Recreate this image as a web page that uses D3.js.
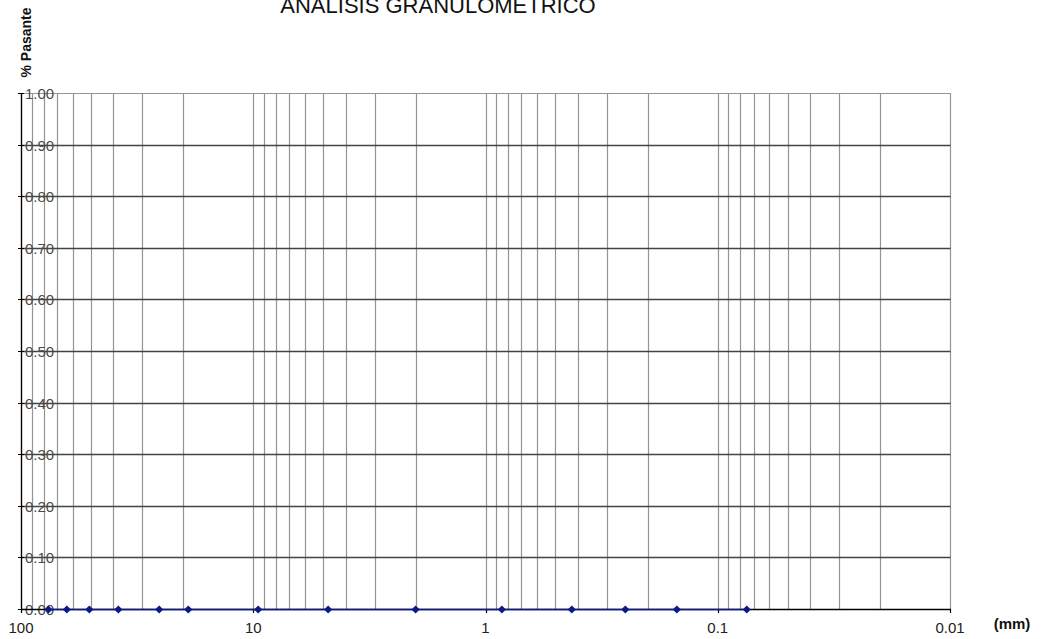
<!DOCTYPE html>
<html>
<head>
<meta charset="utf-8">
<script src="https://cdn.jsdelivr.net/npm/d3@7"></script>
<style>
  html, body { margin: 0; padding: 0; background: #fff; }
  svg { display: block; }
</style>
</head>
<body>
<svg id="chart" width="1041" height="639"></svg>
<script>
// sieve openings (mm) and fraction passing
var sieves = [76.2, 63.5, 50.8, 38.1, 25.4, 19.05, 9.525, 4.76, 2.0, 0.85, 0.425, 0.25, 0.15, 0.075];
var pasante = [0, 0, 0, 0, 0, 0, 0, 0, 0, 0, 0, 0, 0, 0];
var xTicks = [100, 10, 1, 0.1, 0.01];
var yTicks = [0, 0.1, 0.2, 0.3, 0.4, 0.5, 0.6, 0.7, 0.8, 0.9, 1.0];

var svg = d3.select("#chart");
var font = "'Liberation Sans', Arial, sans-serif";

var plotL = 21, plotR = 950, plotT = 93, plotB = 609;

var x = d3.scaleLog().domain([100, 0.01]).range([plotL, plotR]);
var y = d3.scaleLinear().domain([0, 1]).range([plotB, plotT]);

function px(v) { return Math.round(v) + 0.5; }

// minor log grid: 1..9 x 10^k
var grid = [];
[-2, -1, 0, 1].forEach(function (k) {
    for (var m = 1; m < 10; m++) grid.push(m * Math.pow(10, k));
});
grid.push(100);

svg.append("g")
    .selectAll("line")
    .data(grid)
    .enter().append("line")
    .attr("x1", function (d) { return px(x(d)); })
    .attr("x2", function (d) { return px(x(d)); })
    .attr("y1", plotT)
    .attr("y2", plotB)
    .style("stroke", "#949494")
    .style("stroke-width", 1.2);

// top border
svg.append("line")
    .attr("x1", plotL).attr("x2", px(plotR))
    .attr("y1", px(plotT)).attr("y2", px(plotT))
    .style("stroke", "#949494")
    .style("stroke-width", 1.2);

// horizontal grid
svg.append("g")
    .selectAll("line")
    .data(yTicks.slice(1, -1))
    .enter().append("line")
    .attr("x1", plotL).attr("x2", px(plotR))
    .attr("y1", function (d) { return px(y(d)); })
    .attr("y2", function (d) { return px(y(d)); })
    .style("stroke", "#444")
    .style("stroke-width", 1.3);

// y axis line + ticks
svg.append("line")
    .attr("x1", px(plotL)).attr("x2", px(plotL))
    .attr("y1", plotT).attr("y2", plotB + 1)
    .style("stroke", "#000")
    .style("stroke-width", 1.3);

svg.append("g")
    .selectAll("line")
    .data(yTicks)
    .enter().append("line")
    .attr("x1", plotL - 3).attr("x2", plotL + 3)
    .attr("y1", function (d) { return px(y(d)); })
    .attr("y2", function (d) { return px(y(d)); })
    .style("stroke", "#000")
    .style("stroke-width", 1);

// y labels sit inside the plot, struck by the grid
svg.append("g")
    .selectAll("text")
    .data(yTicks)
    .enter().append("text")
    .attr("x", plotL + 4)
    .attr("y", function (d) { return y(d) + 6; })
    .text(function (d) { return d3.format(".2f")(d); })
    .style("font", "15px " + font)
    .style("fill", "#4a4a4a");

// x axis line + ticks
svg.append("line")
    .attr("x1", plotL).attr("x2", px(plotR) + 0.5)
    .attr("y1", px(plotB)).attr("y2", px(plotB))
    .style("stroke", "#000")
    .style("stroke-width", 1.5);

svg.append("g")
    .selectAll("line")
    .data(xTicks)
    .enter().append("line")
    .attr("x1", function (d) { return px(x(d)); })
    .attr("x2", function (d) { return px(x(d)); })
    .attr("y1", plotB)
    .attr("y2", plotB + 4)
    .style("stroke", "#000")
    .style("stroke-width", 1.2);

svg.append("g")
    .selectAll("text")
    .data(xTicks)
    .enter().append("text")
    .attr("x", function (d) { return x(d); })
    .attr("y", 633)
    .attr("text-anchor", "middle")
    .text(function (d) { return String(d); })
    .style("font", "15px " + font)
    .style("fill", "#222");

// data line and markers
var pts = sieves.map(function (d, i) { return [d, pasante[i]]; });

svg.append("path")
    .datum(pts)
    .attr("d", d3.line()
        .x(function (d) { return x(d[0]); })
        .y(function (d) { return px(y(d[1])); }))
    .style("fill", "none")
    .style("stroke", "#0a1a8a")
    .style("stroke-width", 1.6);

svg.append("g")
    .selectAll("path")
    .data(pts)
    .enter().append("path")
    .attr("d", d3.symbol().type(d3.symbolSquare).size(34))
    .attr("transform", function (d) {
        return "translate(" + x(d[0]) + "," + px(y(d[1])) + ") rotate(45)";
    })
    .style("fill", "#0a1a8a");

// titles
svg.append("text")
    .attr("x", 438)
    .attr("y", 12.5)
    .attr("text-anchor", "middle")
    .text("ANALISIS GRANULOMETRICO")
    .style("font", "22px " + font)
    .style("fill", "#111");

svg.append("text")
    .attr("transform", "translate(31,42.5) rotate(-90)")
    .attr("text-anchor", "middle")
    .text("% Pasante")
    .style("font", "bold 14px " + font)
    .style("fill", "#111");

svg.append("text")
    .attr("x", 1012)
    .attr("y", 629)
    .attr("text-anchor", "middle")
    .text("(mm)")
    .style("font", "bold 15px " + font)
    .style("fill", "#111");
</script>
</body>
</html>
